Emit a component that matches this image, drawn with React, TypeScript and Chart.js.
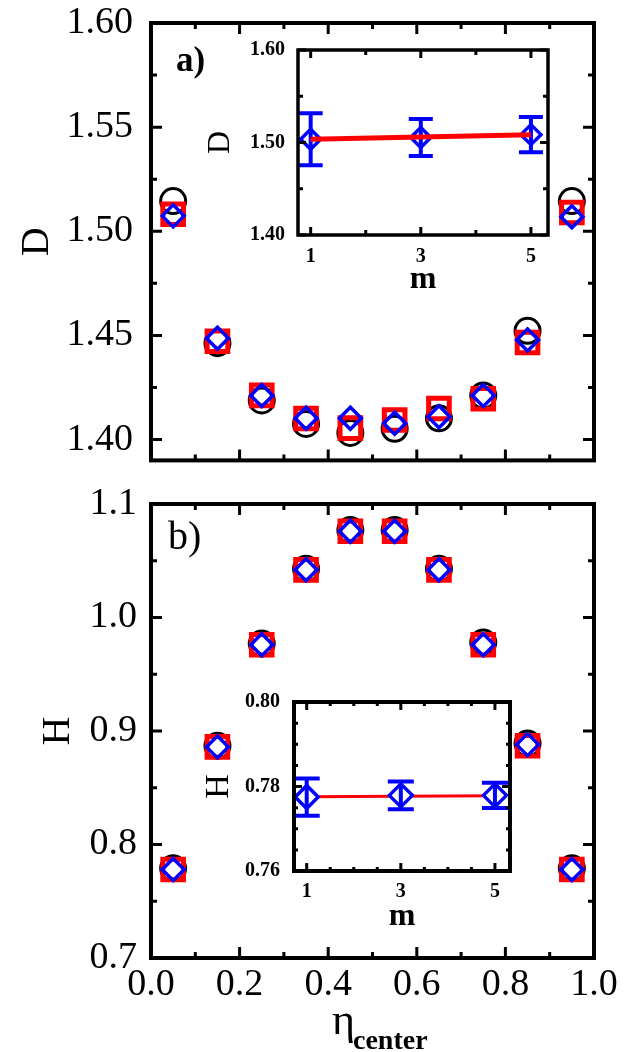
import React, { useEffect, useRef } from "react";
import { Chart, registerables } from "chart.js";

Chart.register(...registerables);

const SERIF = "'Liberation Serif', 'Times New Roman', Times, serif";

// ---------- main panels data ----------
const etaCenter = [0.05, 0.15, 0.25, 0.35, 0.45, 0.55, 0.65, 0.75, 0.85, 0.95];
const dCircle = [1.5145, 1.4463, 1.4188, 1.4075, 1.4032, 1.4052, 1.4102, 1.4212, 1.4522, 1.5145];
const dSquare = [1.5082, 1.4472, 1.4212, 1.4101, 1.4055, 1.4094, 1.4149, 1.4196, 1.4466, 1.509];
const dDiamond = [1.5074, 1.4486, 1.4212, 1.4102, 1.4102, 1.4078, 1.411, 1.4212, 1.4478, 1.507];
const hCircle = [0.779, 0.887, 0.977, 1.043, 1.077, 1.077, 1.043, 0.978, 0.889, 0.779];
const hSquare = [0.778, 0.886, 0.976, 1.042, 1.076, 1.076, 1.042, 0.976, 0.887, 0.778];
const hDiamond = [0.778, 0.886, 0.976, 1.042, 1.076, 1.076, 1.042, 0.976, 0.888, 0.778];

// ---------- inset data ----------
const mValues = [1, 3, 5];
const insetD = [1.5035, 1.5055, 1.5085];
const insetDErr = [0.028, 0.02, 0.019];
const fitM = [1, 5];
const fitD = [1.5035, 1.5085];
const insetH = [0.7775, 0.7779, 0.7779];
const insetHErr = [0.0044, 0.0033, 0.003];
const fitH = [0.7776, 0.7778];

// ---------- ticks ----------
const etaLabels = [0, 0.2, 0.4, 0.6, 0.8, 1.0];
const etaMinor = [0.1, 0.3, 0.5, 0.7, 0.9];
const dYLabels = [1.4, 1.45, 1.5, 1.55, 1.6];
const dYMinor = [1.425, 1.475, 1.525, 1.575];
const hYLabels = [0.7, 0.8, 0.9, 1.0, 1.1];
const hYMinor = [0.75, 0.85, 0.95, 1.05];
const mLabels = [1, 3, 5];
const mMinorA = [2, 4];
const mMinorB = [1.5, 2, 2.5, 3.5, 4, 4.5];
const insetDLabels = [1.4, 1.5, 1.6];
const insetDMinor = [1.45, 1.55];
const insetHLabels = [0.76, 0.78, 0.8];
const insetHMinor = [0.765, 0.77, 0.775, 0.785, 0.79, 0.795];

const pts = (xs: number[], ys: number[]) => xs.map((x, i) => ({ x, y: ys[i] }));

function frameTicks(o: {
  xMajor: number[]; xMinor: number[]; yMajor: number[]; yMinor: number[];
  majorLen: number; minorLen: number; tickWidth: number; frameWidth: number;
}) {
  return {
    id: "frameTicks",
    afterDatasetsDraw(chart: any) {
      const { ctx, chartArea } = chart;
      const { left, right, top, bottom } = chartArea;
      const xs = chart.scales.x;
      const ys = chart.scales.y;
      ctx.save();
      ctx.strokeStyle = "#000";
      ctx.lineWidth = o.tickWidth;
      const dx = (v: number, len: number) => {
        const p = xs.getPixelForValue(v);
        ctx.beginPath();
        ctx.moveTo(p, bottom);
        ctx.lineTo(p, bottom - len);
        ctx.moveTo(p, top);
        ctx.lineTo(p, top + len);
        ctx.stroke();
      };
      const dy = (v: number, len: number) => {
        const p = ys.getPixelForValue(v);
        ctx.beginPath();
        ctx.moveTo(left, p);
        ctx.lineTo(left + len, p);
        ctx.moveTo(right, p);
        ctx.lineTo(right - len, p);
        ctx.stroke();
      };
      o.xMajor.forEach((v) => dx(v, o.majorLen));
      o.xMinor.forEach((v) => dx(v, o.minorLen));
      o.yMajor.forEach((v) => dy(v, o.majorLen));
      o.yMinor.forEach((v) => dy(v, o.minorLen));
      ctx.lineWidth = o.frameWidth;
      ctx.strokeRect(left, top, right - left, bottom - top);
      ctx.restore();
    },
  };
}

function errorBars(o: {
  datasetIndex: number; xs: number[]; ys: number[]; errs: number[];
  color: string; lineWidth: number; capHalf: number;
}) {
  return {
    id: "errorBars",
    afterDatasetDraw(chart: any, args: any) {
      if (args.index !== o.datasetIndex) return;
      const { ctx } = chart;
      const sx = chart.scales.x;
      const sy = chart.scales.y;
      ctx.save();
      ctx.strokeStyle = o.color;
      ctx.lineWidth = o.lineWidth;
      o.xs.forEach((xv, i) => {
        const px = sx.getPixelForValue(xv);
        const pt = sy.getPixelForValue(o.ys[i] + o.errs[i]);
        const pb = sy.getPixelForValue(o.ys[i] - o.errs[i]);
        ctx.beginPath();
        ctx.moveTo(px, pt);
        ctx.lineTo(px, pb);
        ctx.moveTo(px - o.capHalf, pt);
        ctx.lineTo(px + o.capHalf, pt);
        ctx.moveTo(px - o.capHalf, pb);
        ctx.lineTo(px + o.capHalf, pb);
        ctx.stroke();
      });
      ctx.restore();
    },
  };
}

function scaleCfg(o: {
  position: "left" | "bottom"; min: number; max: number; labels: number[];
  fmt: (v: number) => string; showLabels: boolean; pad: number; font: any;
  size: number; title?: any;
}) {
  const isY = o.position === "left";
  return {
    type: "linear",
    position: o.position,
    min: o.min,
    max: o.max,
    grid: { display: false, drawTicks: false },
    border: { display: false },
    ticks: {
      display: o.showLabels,
      padding: o.pad,
      font: o.font,
      color: "#000",
      autoSkip: false,
      maxRotation: 0,
      minRotation: 0,
      callback: (v: any) => o.fmt(Number(v)),
    },
    afterBuildTicks: (scale: any) => {
      scale.ticks = o.labels.map((v) => ({ value: v }));
    },
    afterFit: (scale: any) => {
      if (isY) scale.width = o.size;
      else scale.height = o.size;
      scale.paddingTop = 0;
      scale.paddingBottom = 0;
      scale.paddingLeft = 0;
      scale.paddingRight = 0;
    },
    title: o.title ? o.title : { display: false },
  };
}

const mainTickFont = { family: SERIF, size: 38, lineHeight: 1 };
const insetTickFont = { family: SERIF, size: 20, weight: "bold", lineHeight: 1 };

function mainDatasets(c: number[], s: number[], d: number[]) {
  return [
    {
      label: "circle",
      data: pts(etaCenter, c),
      pointStyle: "circle",
      pointRadius: 12.5,
      pointHoverRadius: 12.5,
      pointBorderWidth: 3,
      pointBorderColor: "#000000",
      pointBackgroundColor: "rgba(0,0,0,0)",
      order: 3,
      clip: false,
    },
    {
      label: "square",
      data: pts(etaCenter, s),
      pointStyle: "rect",
      pointRadius: 14.6,
      pointHoverRadius: 14.6,
      pointBorderWidth: 5,
      pointBorderColor: "#ff0000",
      pointBackgroundColor: "rgba(0,0,0,0)",
      order: 2,
      clip: false,
    },
    {
      label: "diamond",
      data: pts(etaCenter, d),
      pointStyle: "rectRot",
      pointRadius: 11,
      pointHoverRadius: 11,
      pointBorderWidth: 3.5,
      pointBorderColor: "#0000ff",
      pointBackgroundColor: "rgba(0,0,0,0)",
      order: 1,
      clip: false,
    },
  ];
}

const baseOptions = {
  responsive: false,
  animation: false,
  events: [],
  plugins: { legend: { display: false }, tooltip: { enabled: false } },
};

function buildTopMain(): any {
  return {
    type: "scatter",
    data: { datasets: mainDatasets(dCircle, dSquare, dDiamond) },
    options: {
      ...baseOptions,
      layout: { padding: { top: 23, right: 38, left: 0, bottom: 0 } },
      scales: {
        x: scaleCfg({ position: "bottom", min: 0, max: 1, labels: etaLabels, fmt: (v) => v.toFixed(1), showLabels: false, pad: 0, font: mainTickFont, size: 8 }),
        y: scaleCfg({
          position: "left", min: 1.39, max: 1.6, labels: dYLabels, fmt: (v) => v.toFixed(2), showLabels: true, pad: 18, font: mainTickFont, size: 151,
          title: { display: true, text: "D", color: "#000", font: { family: SERIF, size: 40, lineHeight: 1 }, padding: { top: 17.5, bottom: 0 } },
        }),
      },
    },
    plugins: [frameTicks({ xMajor: etaLabels, xMinor: etaMinor, yMajor: dYLabels, yMinor: dYMinor, majorLen: 11, minorLen: 6, tickWidth: 3, frameWidth: 4 })],
  };
}

function buildBottomMain(): any {
  return {
    type: "scatter",
    data: { datasets: mainDatasets(hCircle, hSquare, hDiamond) },
    options: {
      ...baseOptions,
      layout: { padding: { top: 24, right: 38, left: 0, bottom: 0 } },
      scales: {
        x: scaleCfg({ position: "bottom", min: 0, max: 1, labels: etaLabels, fmt: (v) => v.toFixed(1), showLabels: true, pad: 8, font: mainTickFont, size: 94 }),
        y: scaleCfg({
          position: "left", min: 0.7, max: 1.1, labels: hYLabels, fmt: (v) => v.toFixed(1), showLabels: true, pad: 14, font: mainTickFont, size: 151,
          title: { display: true, text: "H", color: "#000", font: { family: SERIF, size: 40, lineHeight: 1 }, padding: { top: 38, bottom: 0 } },
        }),
      },
    },
    plugins: [frameTicks({ xMajor: etaLabels, xMinor: etaMinor, yMajor: hYLabels, yMinor: hYMinor, majorLen: 11, minorLen: 6, tickWidth: 3, frameWidth: 4 })],
  };
}

function buildInsetA(): any {
  return {
    type: "scatter",
    data: {
      datasets: [
        {
          label: "D(m)",
          data: pts(mValues, insetD),
          pointStyle: "rectRot",
          pointRadius: 10,
          pointHoverRadius: 10,
          pointBorderWidth: 3.5,
          pointBorderColor: "#0000ff",
          pointBackgroundColor: "rgba(0,0,0,0)",
          order: 1,
          clip: false,
        },
        {
          label: "fit",
          data: pts(fitM, fitD),
          showLine: true,
          borderColor: "#ff0000",
          borderWidth: 5,
          pointRadius: 0,
          pointHoverRadius: 0,
          order: 0,
          clip: false,
        },
      ],
    },
    options: {
      ...baseOptions,
      layout: { padding: { top: 20, right: 32, left: 0, bottom: 0 } },
      scales: {
        x: scaleCfg({
          position: "bottom", min: 0.77, max: 5.31, labels: mLabels, fmt: (v) => String(v), showLabels: true, pad: 12, font: insetTickFont, size: 75,
          title: { display: true, text: "m", color: "#000", font: { family: SERIF, size: 32, weight: "bold", lineHeight: 1 }, padding: { top: 0, bottom: 14.5 } },
        }),
        y: scaleCfg({
          position: "left", min: 1.4, max: 1.6, labels: insetDLabels, fmt: (v) => v.toFixed(2), showLabels: true, pad: 13, font: insetTickFont, size: 118,
          title: { display: true, text: "D", color: "#000", font: { family: SERIF, size: 32, lineHeight: 1 }, padding: { top: 25, bottom: 0 } },
        }),
      },
    },
    plugins: [
      errorBars({ datasetIndex: 0, xs: mValues, ys: insetD, errs: insetDErr, color: "#0000ff", lineWidth: 4, capHalf: 12 }),
      frameTicks({ xMajor: mLabels, xMinor: mMinorA, yMajor: insetDLabels, yMinor: insetDMinor, majorLen: 8, minorLen: 5, tickWidth: 3, frameWidth: 3.5 }),
    ],
  };
}

function buildInsetB(): any {
  return {
    type: "scatter",
    data: {
      datasets: [
        {
          label: "H(m)",
          data: pts(mValues, insetH),
          pointStyle: "rectRot",
          pointRadius: 11.5,
          pointHoverRadius: 11.5,
          pointBorderWidth: 3.5,
          pointBorderColor: "#0000ff",
          pointBackgroundColor: "#ffffff",
          order: 0,
          clip: false,
        },
        {
          label: "fit",
          data: pts(fitM, fitH),
          showLine: true,
          borderColor: "#ff0000",
          borderWidth: 3,
          pointRadius: 0,
          pointHoverRadius: 0,
          order: 1,
          clip: false,
        },
      ],
    },
    options: {
      ...baseOptions,
      layout: { padding: { top: 22, right: 50, left: 0, bottom: 0 } },
      scales: {
        x: scaleCfg({
          position: "bottom", min: 0.73, max: 5.32, labels: mLabels, fmt: (v) => String(v), showLabels: true, pad: 11, font: insetTickFont, size: 89,
          title: { display: true, text: "m", color: "#000", font: { family: SERIF, size: 32, weight: "bold", lineHeight: 1 }, padding: { top: 0, bottom: 27.5 } },
        }),
        y: scaleCfg({
          position: "left", min: 0.76, max: 0.8, labels: insetHLabels, fmt: (v) => v.toFixed(2), showLabels: true, pad: 14, font: insetTickFont, size: 114,
          title: { display: true, text: "H", color: "#000", font: { family: SERIF, size: 34, lineHeight: 1 }, padding: { top: 22.5, bottom: 0 } },
        }),
      },
    },
    plugins: [
      errorBars({ datasetIndex: 0, xs: mValues, ys: insetH, errs: insetHErr, color: "#0000ff", lineWidth: 4, capHalf: 13 }),
      frameTicks({ xMajor: mLabels, xMinor: mMinorB, yMajor: insetHLabels, yMinor: insetHMinor, majorLen: 8, minorLen: 4, tickWidth: 3, frameWidth: 4 }),
    ],
  };
}

function ChartCanvas(props: { left: number; top: number; width: number; height: number; build: () => any }) {
  const ref = useRef<HTMLCanvasElement | null>(null);
  useEffect(() => {
    if (!ref.current) return;
    const chart = new Chart(ref.current, props.build());
    return () => chart.destroy();
  }, []);
  return (
    <canvas
      ref={ref}
      width={props.width}
      height={props.height}
      style={{ position: "absolute", left: props.left, top: props.top, width: props.width, height: props.height }}
    />
  );
}

const textStyle = (left: number, top: number, size: number, bold: boolean): React.CSSProperties => ({
  position: "absolute",
  left,
  top,
  fontFamily: SERIF,
  fontSize: size,
  lineHeight: `${size}px`,
  fontWeight: bold ? "bold" : "normal",
  color: "#000",
  whiteSpace: "nowrap",
  margin: 0,
});

export default function App() {
  return (
    <div
      style={{
        position: "absolute",
        left: 0,
        top: 0,
        width: 632,
        height: 1052,
        overflow: "hidden",
        background: "#ffffff",
      }}
    >
      <ChartCanvas left={0} top={0} width={632} height={480} build={buildTopMain} />
      <ChartCanvas left={0} top={480} width={632} height={572} build={buildBottomMain} />
      <ChartCanvas left={180} top={30} width={400} height={280} build={buildInsetA} />
      <ChartCanvas left={180} top={680} width={380} height={280} build={buildInsetB} />
      <div style={textStyle(176, 42, 35, true)}>a)</div>
      <div style={textStyle(168, 516, 40, false)}>b)</div>
      <div style={textStyle(332, 998, 44, false)}>η</div>
      <div style={textStyle(353, 1026, 28, true)}>center</div>
    </div>
  );
}
